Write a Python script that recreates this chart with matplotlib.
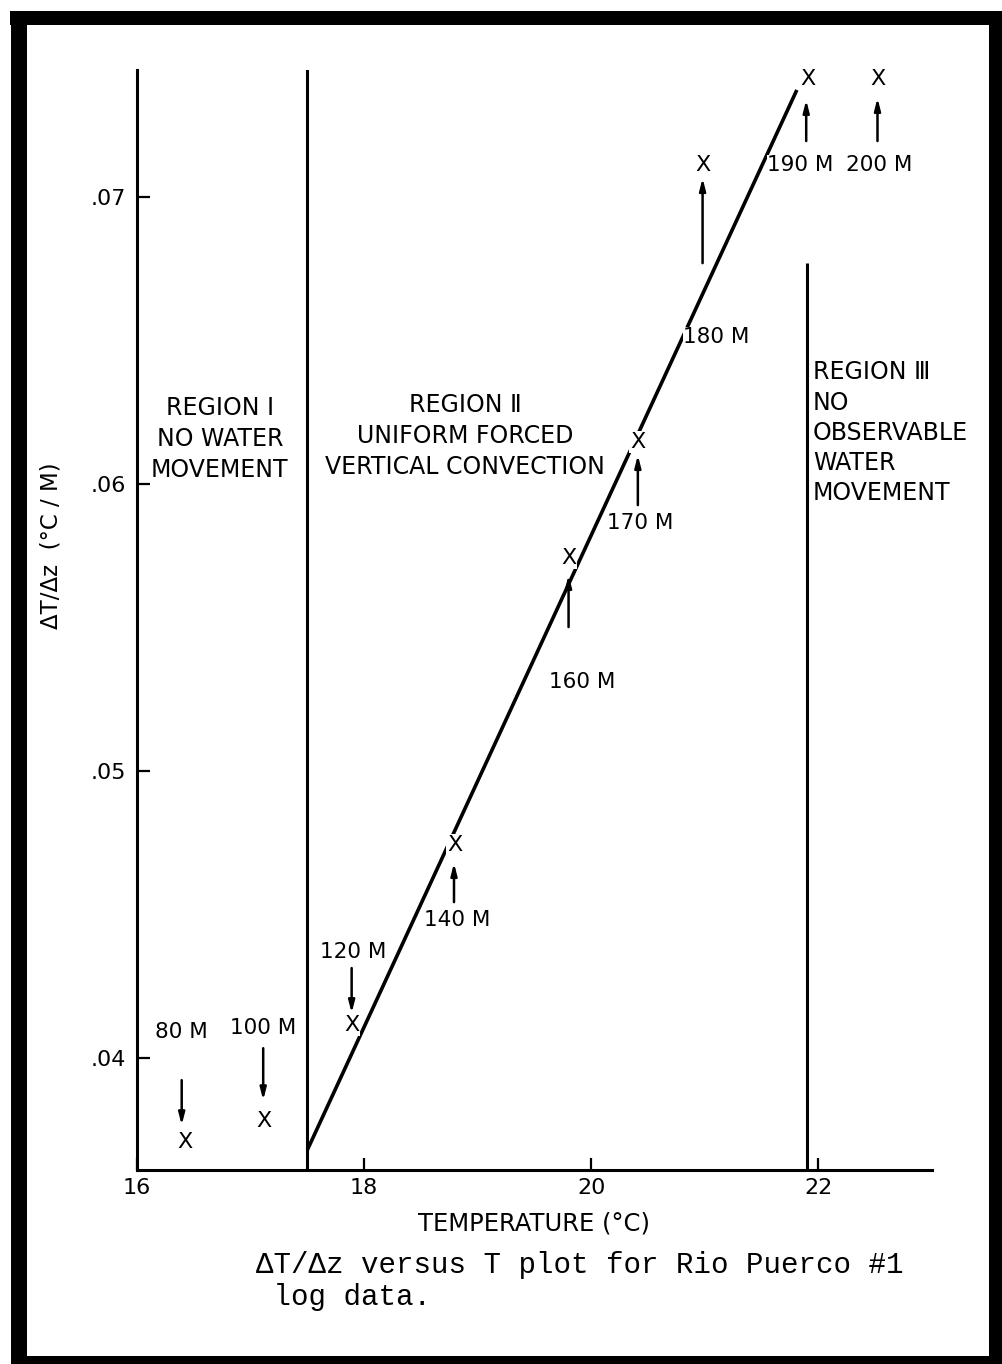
import matplotlib.pyplot as plt
from matplotlib.patches import Rectangle
from matplotlib.transforms import offset_copy

# logged depth (m), temperature (deg C) and gradient (deg C / m) for each point
depths = [80, 100, 120, 140, 160, 170, 180, 190, 200]
temps = [16.42, 17.12, 17.89, 18.80, 19.80, 20.41, 20.98, 21.91, 22.52]
grads = [0.03707, 0.03780, 0.04115, 0.04742, 0.05742, 0.06146, 0.07111, 0.07411, 0.07411]

# straight line drawn through region II
fit_temps = [17.5, 21.81]
fit_grads = [0.0368, 0.07373]

# region boundaries (deg C) and top of the region III boundary
boundaries = [17.5, 21.9]
region3_top = 0.0677

x_ticks = [16, 18, 20, 22]
y_ticks = [0.04, 0.05, 0.06, 0.07]
y_tick_labels = ['.04', '.05', '.06', '.07']

region_texts = ['REGION I\nNO WATER\nMOVEMENT',
                'REGION \u2161\nUNIFORM FORCED\nVERTICAL CONVECTION',
                'REGION \u2162\nNO\nOBSERVABLE\nWATER\nMOVEMENT']

# label / arrow placement per point, in pixels (dx, dy down): label, arrow tail, arrow head
label_px = [(-3, -110), (-1, -93), (2, -73), (2, 75), (14, 124), (2, 81), (14, 172), (-8, 86), (2, 86)]
arrow_px = [(-3, -62, -17), (-1, -73, -21), (0, -57, -12), (-1, 57, 18), (0, 69, 17),
            (0, 63, 13), (0, 98, 13), (-2, 62, 21), (0, 62, 19)]

plt.rcParams['font.family'] = ['DejaVu Sans']
W, H = 1003, 1364
fig = plt.figure(figsize=(W / 100, H / 100), dpi=100)
ax = fig.add_axes([137 / W, 1 - 1170 / H, 795 / W, 1100 / H])
ax.set_xlim(16, 23)
ax.set_ylim(0.0361, 0.074425)

for side in ['top', 'right']:
    ax.spines[side].set_visible(False)
for side in ['left', 'bottom']:
    ax.spines[side].set_linewidth(2.2)

ax.set_xticks(x_ticks)
ax.set_xticklabels([str(t) for t in x_ticks])
ax.set_yticks(y_ticks)
ax.set_yticklabels(y_tick_labels)
ax.tick_params(axis='both', direction='in', length=9, width=1.6, labelsize=16)
ax.tick_params(axis='x', pad=6)
ax.tick_params(axis='y', pad=8)

ax.set_ylabel('\u0394T/\u0394z  (\u00b0C / M)', fontsize=16.5)
ax.yaxis.set_label_coords(-0.094, 0.568)
ax.set_xlabel('TEMPERATURE (\u00b0C)', fontsize=17.5)
ax.xaxis.set_label_coords(0.50, -0.038)

# region boundaries
ax.axvline(boundaries[0], color='black', lw=2.2)
ax.vlines(boundaries[1], ax.get_ylim()[0], region3_top, color='black', lw=2.2)

# fitted line
ax.plot(fit_temps, fit_grads, color='black', lw=2.6, solid_capstyle='butt', zorder=2)

# points, depth labels and arrows
for d, t, g, (lx, ly), (ax_x, tail, head) in zip(depths, temps, grads, label_px, arrow_px):
    ax.text(t, g, 'X', ha='center', va='center', fontsize=16, zorder=4,
            bbox=dict(facecolor='white', edgecolor='none', pad=0.8))
    ax.annotate(f'{d} M', xy=(t, g), xytext=(lx * 0.72, -ly * 0.72),
                textcoords='offset points', ha='center', va='center', fontsize=15.5,
                bbox=dict(facecolor='white', edgecolor='none', pad=0.3), zorder=3)
    tail_tr = offset_copy(ax.transData, fig, x=ax_x, y=-tail, units='dots')
    head_tr = offset_copy(ax.transData, fig, x=ax_x, y=-head, units='dots')
    ax.annotate('', xy=(t, g), xycoords=head_tr, xytext=(t, g), textcoords=tail_tr,
                arrowprops=dict(arrowstyle='-|>,head_length=0.7,head_width=0.18',
                                color='black', lw=1.8, shrinkA=0, shrinkB=0), zorder=3)

# region descriptions
ax.text(16.73, 0.06157, region_texts[0], ha='center', va='center', fontsize=17,
        linespacing=1.38, multialignment='center')
ax.text(18.89, 0.06167, region_texts[1], ha='center', va='center', fontsize=17,
        linespacing=1.38, multialignment='center')
ax.text(21.95, 0.06178, region_texts[2], ha='left', va='center', fontsize=17,
        linespacing=1.33, multialignment='left')

# caption
fig.text(256 / W, 1 - 1265 / H, '\u0394T/\u0394z versus T plot for Rio Puerco #1',
         family=['Liberation Mono', 'DejaVu Serif'], fontsize=21, va='center', ha='left')
fig.text(256 / W, 1 - 1297 / H, ' log data.',
         family=['Liberation Mono', 'DejaVu Serif'], fontsize=21, va='center', ha='left')

# thick black frame round the figure
for x0, y0, x1, y1 in [(10, 11, W, 25), (11, 11, 27, H), (989, 11, W, H), (11, 1356, W, H)]:
    fig.add_artist(Rectangle((x0 / W, 1 - y1 / H), (x1 - x0) / W, (y1 - y0) / H,
                             transform=fig.transFigure, facecolor='black', edgecolor='none'))

fig.savefig('out.png', dpi=100, facecolor='white')
